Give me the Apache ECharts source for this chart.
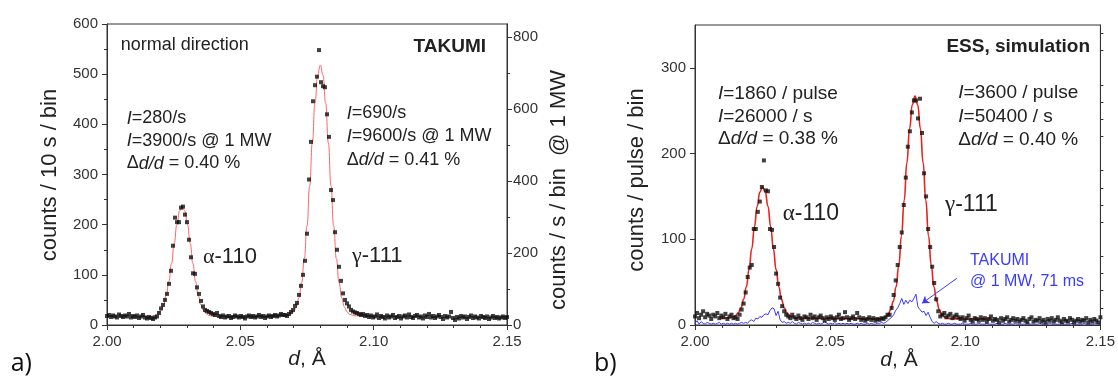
<!DOCTYPE html>
<html><head><meta charset="utf-8">
<script src="https://cdn.jsdelivr.net/npm/echarts@6/dist/echarts.min.js"></script>
<style>html,body{margin:0;padding:0;background:#fff;}#c{width:1118px;height:381px;}</style>
</head><body><div id="c"></div>
<script>
// ---- data ----
const dStart = 2.0, dStep = 0.00075;           // bin grid of the diffraction patterns
const xTicks = [2.00, 2.05, 2.10, 2.15];

// panel a: TAKUMI, counts / 10 s / bin
const takumiCounts = [
 18,20,16,19,17,15,21,18,16,19,
 17,22,15,18,16,19,14,17,20,15,
 13,16,14,12,15,17,
 24,33,40,50,62,82,108,158,214,205,205,234,236,220,205,170,135,103,102,75,62,48,37,30,28,26,24,
 22,20,24,18,16,19,15,17,18,14,16,19,17,15,18,16,13,17,19,16,18,15,17,20,16,18,14,17,19,16,18,20,17,19,22,20,
 20,18,22,26,30,38,44,60,78,100,128,182,290,365,446,478,495,548,484,476,474,420,375,269,249,185,150,116,88,63,50,43,37,30,27,25,24,22,20,
 22,18,20,16,19,15,17,21,14,18,
 16,13,19,15,17,20,14,16,18,13,
 17,19,15,21,16,14,18,20,15,17,
 13,19,16,22,15,18,14,17,20,16,
 12,18,15,17,26,14,10,16,13,18,
 15,17,12,16,19,14,17,15,13,18,
 16,14,17,12,15,18,14,16,13,15,
 17,14,16];
const takumiFitD = [2.0135,2.0152,2.0162,2.0172,2.0182,2.0192,2.0202,2.0212,2.0222,2.0232,2.0242,2.0252,2.0262,2.0272,2.0282,2.0292,2.0302,2.0312,2.0322,2.0332,2.0342,2.0352,2.0362,2.0372,2.0382,2.0392,2.0402,2.045,2.050,2.055,2.060,2.064,2.066,2.067,2.068,2.069,2.070,2.071,2.072,2.073,2.074,2.075,2.076,2.077,2.078,2.079,2.080,2.081,2.082,2.083,2.084,2.085,2.086,2.087,2.088,2.089,2.090,2.091,2.092,2.093,2.094,2.095,2.098,2.102,2.106];
const takumiFitCounts = [17,17.1,17.3,17.9,19.2,22.3,28.7,40.2,59,87,122.6,162.6,200,227,237,227,200,162.6,122.6,87,59,40.2,28.7,22.3,19.2,17.9,17.3,17.2,17.3,17.5,17.8,18,18.1,18.5,19.4,21.5,26.3,36.1,54.3,85,132.5,197.5,277.5,363.6,442.5,498,518,498,442.5,363.6,277.5,197.5,132.5,85,54.3,36.1,26.3,21.5,19.4,18.5,18.1,18,18,18,18];
const leftTicksA = [0,100,200,300,400,500,600];
const rightTicksA = [0,200,400,600,800];
const rightMinorA = [100,300,500,700];
const rightMaxA = 835.8;   // 600 counts/10 s  ->  counts/s @ 1 MW

// panel b: ESS simulation, counts / pulse / bin
const essCounts = [
 10,14,8,12,16,9,13,11,7,12,
 10,14,8,11,9,13,7,10,12,8,
 9,7,12,18,25,38,
 56,67,70,112,112,132,144,161,192,157,156,112,111,91,60,48,32,22,16,12,
 10,8,12,9,7,11,8,6,10,9,
 7,12,8,10,6,9,11,8,5,9,
 7,10,8,6,9,12,7,8,15,9,
 6,8,10,7,14,9,6,8,5,7,
 9,6,8,5,7,6,8,7,9,12,
 12,20,35,52,70,91,108,140,172,208,226,248,262,262,241,264,224,177,150,112,91,68,49,30,16,10,
 12,14,9,11,13,8,10,12,9,7,
 9,5,8,11,6,4,8,7,5,9,
 6,8,4,7,10,5,7,6,3,8,
 5,7,9,4,6,8,5,7,4,6,
 8,5,3,7,9,4,6,5,8,4,
 6,3,7,5,8,4,6,9,5,3,
 7,5,4,8,6,3,5,7,4,6,
 5,8,3,6,4,7,5,3,9];
const essFitD = [2.009,2.012,2.013,2.014,2.015,2.016,2.017,2.018,2.019,2.020,2.021,2.022,2.023,2.024,2.025,2.026,2.027,2.028,2.029,2.030,2.031,2.032,2.033,2.034,2.035,2.036,2.037,2.038,2.042,2.050,2.058,2.064,2.0684,2.0694,2.0704,2.0714,2.0724,2.0734,2.0744,2.0754,2.0764,2.0774,2.0784,2.0794,2.0804,2.0814,2.0824,2.0834,2.0844,2.0854,2.0864,2.0874,2.0884,2.0894,2.0904,2.0914,2.0924,2.0934,2.0944,2.100,2.110];
const essFitCounts = [8,8.2,8.5,9.3,10.9,14.2,20.1,29.9,44.7,64.7,89,115,138.5,155,161,155,138.5,115,89,64.7,44.7,29.9,20.1,14.2,10.9,9.3,8.5,8.2,8,7.6,7.3,7.2,7.3,7.9,9.2,12.1,17.7,27.9,44.7,70,104,145.5,189.5,229,256.9,267,256.9,229,189.5,145.5,104,70,44.7,27.9,17.7,12.1,9.2,7.9,7.3,7,7];
// TAKUMI @ 1 MW, 71 ms (blue)
const takumi71ms = [
 2,5,1,4,2,1,3,2,1,2,
 1,2,3,1,2,1,2,1,2,1,
 2,1,2,3,2,3,
 2,5,6,4,8,7,10,9,12,13,12,17,20,19,11,16,6,3,4,2,
 3,2,4,2,1,3,2,1,2,1,
 2,1,3,2,1,2,1,2,4,2,
 1,2,1,3,1,2,1,2,1,2,
 1,2,1,1,2,1,2,1,1,2,
 1,2,1,1,2,2,3,2,3,5,
 7,9,12,17,20,25,31,24,29,25,29,27,31,36,21,18,15,16,11,15,9,4,2,4,2,1,
 2,1,1,2,1,1,2,1,1,1,
 2,1,1,1,2,1,1,1,2,1,
 1,1,2,1,1,1,1,2,1,1,
 1,2,1,1,1,1,2,1,1,1,
 1,1,2,1,1,1,1,1,2,1,
 1,1,1,2,1,1,1,1,1,2,
 1,1,1,1,2,1,1,1,1,1,
 2,1,1,1,1,1,2,1,1];
const leftTicksB = [0,100,200,300];
const leftMinorB = [20,40,60,80,120,140,160,180,220,240,260,280,320,340];
const arrowFrom = [2.0969, 54.5], arrowTo = [2.0840, 25.3];

// ---- chart ----
const FONT = '"Liberation Sans", Arial, sans-serif';
const AX = '#333';
const pairsGrid = arr => arr.map((v, i) => [dStart + i * dStep, v]);
const pairs = (xs, ys) => xs.map((x, i) => [x, ys[i]]);

function xAx(g) {
  return {
    type: 'value', gridIndex: g, min: xTicks[0], max: xTicks[xTicks.length - 1], interval: 0.05,
    axisLine: { show: true, onZero: false, lineStyle: { color: AX, width: 1 } },
    axisTick: { show: true, length: 5, lineStyle: { color: AX } },
    minorTick: { show: true, splitNumber: 5, length: 3, lineStyle: { color: AX } },
    axisLabel: { formatter: v => v.toFixed(2), fontSize: 15, color: '#333', fontFamily: FONT, margin: 9 },
    splitLine: { show: false }, minorSplitLine: { show: false }
  };
}
function yAx(g, o) {
  return Object.assign({
    type: 'value', gridIndex: g,
    axisLine: { show: true, onZero: false, lineStyle: { color: AX, width: 1 } },
    splitLine: { show: false }, minorSplitLine: { show: false }
  }, o);
}
const lbl = (m, extra) => Object.assign({ fontSize: 15, color: '#333', fontFamily: FONT, margin: m }, extra || {});

function T(x, y, text, size, o) {
  o = o || {};
  const fam = o.family || FONT;
  const fill = o.fill || '#222';
  const al = o.align || 'left';
  return {
    type: 'text', x: x, y: y, rotation: o.rot || 0, silent: true, z: 100,
    style: {
      text: text, fontSize: size, fontFamily: fam, fontWeight: o.bold ? 'bold' : 'normal', fill: fill,
      align: al, verticalAlign: 'middle', textAlign: al, textVerticalAlign: 'middle',
      rich: {
        i: { fontStyle: 'italic', fontSize: size, fontFamily: fam, fill: fill },
        g: { fontSize: size, fontFamily: '"Liberation Serif", "DejaVu Serif", serif', fill: fill }
      }
    }
  };
}
const R = Math.PI / 2;
const texts = [
  T(120.7, 45, 'normal direction', 18),
  T(486, 47, 'TAKUMI', 19, { bold: true, align: 'right' }),
  T(126.7, 118.5, '{i|I}=280/s', 18),
  T(126.7, 141, '{i|I}=3900/s @ 1 MW', 18),
  T(126.7, 163.5, 'Δ{i|d/d} = 0.40 %', 18),
  T(346.7, 113.5, '{i|I}=690/s', 18),
  T(346.7, 136.5, '{i|I}=9600/s @ 1 MW', 18),
  T(346.7, 160, 'Δ{i|d/d} = 0.41 %', 18),
  T(203, 257, '{g|α}-110', 22),
  T(352, 256, '{g|γ}-111', 22),
  T(50, 175, 'counts / 10 s / bin', 22, { align: 'center', rot: R }),
  T(559, 190, 'counts / s / bin  @ 1 MW', 22, { align: 'center', rot: R }),
  T(307, 359, '{i|d}, Å', 21, { align: 'center' }),
  T(10.7, 363.5, 'a)', 25, { family: '"Open Sans", "DejaVu Sans", sans-serif', fill: '#111' }),

  T(1090, 46.7, 'ESS, simulation', 19, { bold: true, align: 'right' }),
  T(718, 94, '{i|I}=1860 / pulse', 19),
  T(718, 116.5, '{i|I}=26000 / s', 19),
  T(718, 139, 'Δ{i|d/d} = 0.38 %', 19),
  T(958.3, 92.5, '{i|I}=3600 / pulse', 19),
  T(958.3, 116.5, '{i|I}=50400 / s', 19),
  T(958.3, 139.5, 'Δ{i|d/d} = 0.40 %', 19),
  T(782.7, 213.5, '{g|α}-110', 23),
  T(945, 205, '{g|γ}-111', 23),
  T(970, 261, 'TAKUMI', 16, { fill: '#3b3bff' }),
  T(970, 282, '@ 1 MW, 71 ms', 16, { fill: '#3b3bff' }),
  T(637, 180, 'counts / pulse / bin', 22, { align: 'center', rot: R }),
  T(899, 360, '{i|d}, Å', 21, { align: 'center' }),
  T(594, 363.5, 'b)', 25, { family: '"Open Sans", "DejaVu Sans", sans-serif', fill: '#111' })
];

const chart = echarts.init(document.getElementById('c'), null, { renderer: 'canvas' });
chart.setOption({
  animation: false,
  backgroundColor: '#fff',
  textStyle: { fontFamily: FONT },
  grid: [
    { left: 107, top: 24, width: 400, height: 301, show: true, borderColor: AX, borderWidth: 1, backgroundColor: 'transparent' },
    { left: 695, top: 25, width: 407, height: 300, show: true, borderColor: AX, borderWidth: 1, backgroundColor: 'transparent' }
  ],
  xAxis: [xAx(0), xAx(1)],
  yAxis: [
    yAx(0, { min: 0, max: 600, interval: 100,
      axisTick: { show: true, length: 5, lineStyle: { color: AX } },
      minorTick: { show: true, splitNumber: 2, length: 3, lineStyle: { color: AX } },
      axisLabel: lbl(9) }),
    yAx(0, { position: 'right', min: 0, max: rightMaxA,
      axisTick: { show: true, length: 5, customValues: rightTicksA, lineStyle: { color: AX } },
      axisLabel: lbl(6, { customValues: rightTicksA }) }),
    yAx(0, { position: 'right', min: 0, max: rightMaxA,
      axisTick: { show: true, length: 3, customValues: rightMinorA, lineStyle: { color: AX } },
      axisLabel: { show: false } }),
    yAx(1, { min: 0, max: 350,
      axisTick: { show: true, length: 5, customValues: leftTicksB, lineStyle: { color: AX } },
      axisLabel: lbl(9, { customValues: leftTicksB }) }),
    yAx(1, { min: 0, max: 350,
      axisTick: { show: true, length: 3, customValues: leftMinorB, lineStyle: { color: AX } },
      axisLabel: { show: false } })
  ],
  series: [
    { type: 'line', xAxisIndex: 0, yAxisIndex: 0, data: pairs(takumiFitD, takumiFitCounts),
      showSymbol: false, smooth: true, smoothMonotone: 'x', silent: true,
      lineStyle: { color: '#ff6464', width: 1 }, z: 2 },
    { type: 'scatter', xAxisIndex: 0, yAxisIndex: 0, data: pairsGrid(takumiCounts),
      symbol: 'rect', symbolSize: 4, itemStyle: { color: '#111' }, silent: true, z: 3 },

    { type: 'line', xAxisIndex: 1, yAxisIndex: 3, data: pairsGrid(takumi71ms),
      showSymbol: false, silent: true, lineStyle: { color: '#3b3bff', width: 1 }, z: 1,
      markLine: { silent: true, symbol: ['none', 'arrow'], symbolSize: 7,
        lineStyle: { color: '#3b3bff', width: 1, type: 'solid' }, label: { show: false },
        data: [[{ coord: arrowFrom }, { coord: arrowTo }]] } },
    { type: 'line', xAxisIndex: 1, yAxisIndex: 3, data: pairs(essFitD, essFitCounts),
      showSymbol: false, smooth: true, smoothMonotone: 'x', silent: true,
      lineStyle: { color: '#e8221c', width: 1.6 }, z: 2 },
    { type: 'scatter', xAxisIndex: 1, yAxisIndex: 3, data: pairsGrid(essCounts),
      symbol: 'rect', symbolSize: 4, itemStyle: { color: '#111' }, silent: true, z: 3 }
  ],
  graphic: { elements: texts }
});
</script></body></html>
